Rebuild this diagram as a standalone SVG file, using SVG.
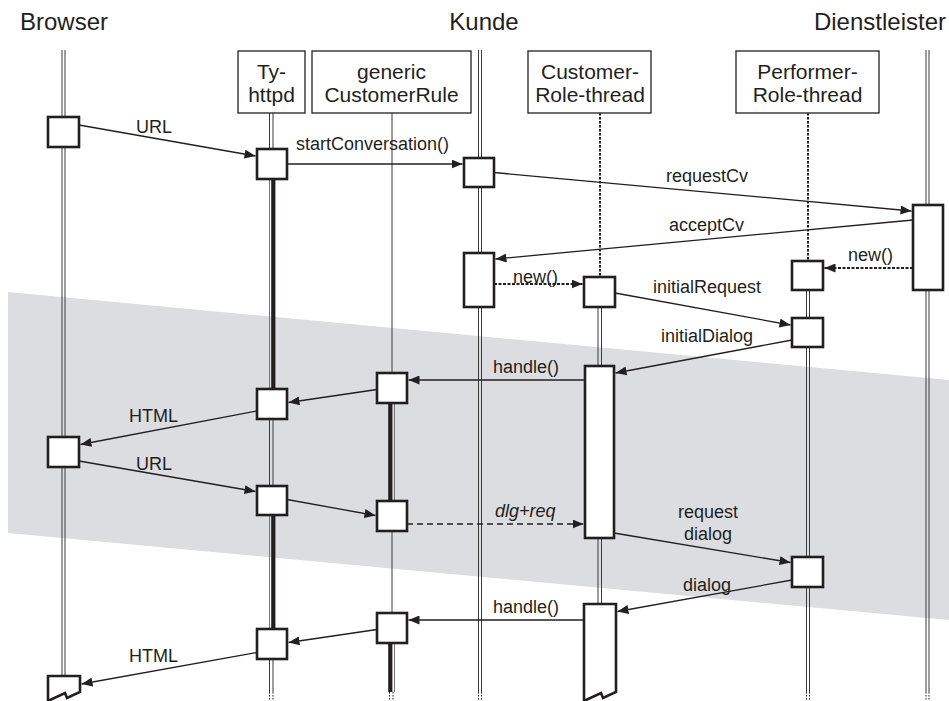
<svg xmlns="http://www.w3.org/2000/svg" width="949" height="701" viewBox="0 0 949 701">
  <defs>
    <marker id="arrow" markerUnits="userSpaceOnUse" markerWidth="12" markerHeight="9" refX="11" refY="4.5" orient="auto">
      <path d="M0,0 L11,4.5 L0,9 z" fill="#231f20"/>
    </marker>
    <style>
      text { font-family: "Liberation Sans", Arial, sans-serif; fill: #231f20; }
      .title { font-size: 24px; }
      .hdr { font-size: 21px; text-anchor: middle; }
      .lbl { font-size: 18px; }
      .mid { text-anchor: middle; }
      .hbox { fill: #fff; stroke: #231f20; stroke-width: 1.3; }
      .act { fill: #fff; stroke: #231f20; stroke-width: 2.6; stroke-linejoin: miter; }
      .life { stroke: #3a3a3a; stroke-width: 1; fill: none; }
      .thick { stroke: #231f20; stroke-width: 4.2; fill: none; }
      .thin { stroke: #777; stroke-width: 1; fill: none; }
      .dot { stroke: #231f20; stroke-width: 2; stroke-dasharray: 2.5 1.5; fill: none; }
      .end { stroke: #231f20; stroke-width: 1; stroke-dasharray: 1.5 1.5; fill: none; }
      .msg { stroke: #231f20; stroke-width: 1.3; fill: none; marker-end: url(#arrow); }
      .create { stroke: #231f20; stroke-width: 2; stroke-dasharray: 3 1.5; fill: none; marker-end: url(#arrow); }
      .dash { stroke: #231f20; stroke-width: 1.6; stroke-dasharray: 6 4; fill: none; marker-end: url(#arrow); }
    </style>
  </defs>

  <rect width="949" height="701" fill="#fff"/>

  <!-- shaded region -->
  <polygon points="8,292 949,380 949,620 8,533" fill="#dcdde0"/>

  <!-- participant titles -->
  <text class="title" x="20" y="30">Browser</text>
  <text class="title" x="484" y="30" text-anchor="middle">Kunde</text>
  <text class="title" x="946" y="30" text-anchor="end">Dienstleister</text>

  <!-- lifelines -->
  <g id="lifelines">
    <!-- Browser -->
    <path class="life" d="M62,50 V117 M65,50 V117 M62,147 V437 M65,147 V437 M62,467 V676 M65,467 V676"/>
    <!-- Ty-httpd -->
    <path class="life" d="M269.5,113 V149 M273,113 V149 M269.5,419 V486 M273,419 V486 M269.5,659 V692 M273,659 V692"/>
    <path class="thin" d="M269.5,179 V389 M269.5,515 V629"/>
    <path class="thick" d="M273.3,179 V389 M273.3,515 V629"/>
    <path class="end" d="M269.5,692 V701 M273,692 V701"/>
    <!-- genericCustomerRule -->
    <path class="life" d="M392,113 V373 M392,531 V613"/>
    <path class="thin" d="M394.5,403 V501 M394.5,643 V692"/>
    <path class="thick" d="M390.3,403 V501 M390.3,643 V692"/>
    <path class="end" d="M389.5,692 V701 M393,692 V701"/>
    <!-- Kunde -->
    <path class="life" d="M478.5,50 V158 M481.5,50 V158 M478.5,187 V253 M481.5,187 V253 M478.5,307 V692 M481.5,307 V692"/>
    <path class="end" d="M478.5,692 V701 M481.5,692 V701"/>
    <!-- Customer-Role-thread -->
    <path class="dot" d="M600,113 V277"/>
    <path class="life" d="M598,307 V366 M601.5,307 V366 M598,538 V604 M601.5,538 V604"/>
    <!-- Performer-Role-thread -->
    <path class="dot" d="M808,113 V261"/>
    <path class="life" d="M806.5,290 V318 M809.5,290 V318 M806.5,347 V557 M809.5,347 V557 M806.5,587 V692 M809.5,587 V692"/>
    <path class="end" d="M806.5,692 V701 M809.5,692 V701"/>
    <!-- Dienstleister -->
    <path class="life" d="M926,50 V205 M929,50 V205 M926,290 V692 M929,290 V692"/>
    <path class="end" d="M926,692 V701 M929,692 V701"/>
  </g>

  <!-- header boxes -->
  <g id="ty-httpd">
    <rect class="hbox" x="238" y="51" width="67" height="62"/>
    <text class="hdr" x="271.5" y="79">Ty-</text>
    <text class="hdr" x="271.5" y="102">httpd</text>
  </g>
  <g id="generic-customer-rule">
    <rect class="hbox" x="312" y="51" width="159" height="62"/>
    <text class="hdr" x="391.5" y="79">generic</text>
    <text class="hdr" x="391.5" y="102">CustomerRule</text>
  </g>
  <g id="customer-role-thread">
    <rect class="hbox" x="528" y="51" width="123" height="62"/>
    <text class="hdr" x="590" y="79">Customer-</text>
    <text class="hdr" x="590" y="102">Role-thread</text>
  </g>
  <g id="performer-role-thread">
    <rect class="hbox" x="736" y="51" width="143" height="62"/>
    <text class="hdr" x="807.5" y="79">Performer-</text>
    <text class="hdr" x="807.5" y="102">Role-thread</text>
  </g>

  <!-- activation boxes -->
  <g id="activations">
    <rect id="browser-a1" class="act" x="48" y="117" width="31" height="30"/>
    <rect id="browser-a2" class="act" x="48" y="437" width="31" height="30"/>
    <path id="browser-a3" class="act" d="M48,676 H80 V692 L67,698 L65,693 L48,701 Z"/>

    <rect id="ty-a1" class="act" x="257" y="149" width="30" height="30"/>
    <rect id="ty-a2" class="act" x="257" y="389" width="30" height="30"/>
    <rect id="ty-a3" class="act" x="257" y="486" width="30" height="29"/>
    <rect id="ty-a4" class="act" x="257" y="629" width="30" height="30"/>

    <rect id="gcr-a1" class="act" x="377" y="373" width="30" height="30"/>
    <rect id="gcr-a2" class="act" x="377" y="501" width="30" height="30"/>
    <rect id="gcr-a3" class="act" x="377" y="613" width="30" height="30"/>

    <rect id="kunde-a1" class="act" x="464" y="158" width="30" height="29"/>
    <rect id="kunde-a2" class="act" x="464" y="253" width="30" height="54"/>

    <rect id="crt-a1" class="act" x="584" y="277" width="31" height="30"/>
    <rect id="crt-a2" class="act" x="585" y="366" width="29" height="172"/>
    <path id="crt-a3" class="act" d="M584,604 H616 V692 L603,698 L601,693 L584,701 Z"/>

    <rect id="prt-a1" class="act" x="792" y="261" width="31" height="29"/>
    <rect id="prt-a2" class="act" x="792" y="318" width="31" height="29"/>
    <rect id="prt-a3" class="act" x="792" y="557" width="31" height="30"/>

    <rect id="dl-a1" class="act" x="913" y="205" width="30" height="85"/>
  </g>

  <!-- messages -->
  <g id="connectors">
    <path class="msg" d="M79,125 L255.5,156"/>
    <path class="msg" d="M287,164 L462.5,164"/>
    <path class="msg" d="M494,172.5 L911.5,211"/>
    <path class="msg" d="M913,220 L495.5,259"/>
    <path class="create" d="M913,268 L824.5,268"/>
    <path class="create" d="M494,284 L582.5,284"/>
    <path class="msg" d="M615,293 L790.5,325"/>
    <path class="msg" d="M792,340 L615.5,373"/>
    <path class="msg" d="M585,380 L408.5,380"/>
    <path class="msg" d="M377,389.5 L288.5,402.5"/>
    <path class="msg" d="M257,411 L80.5,444.5"/>
    <path class="msg" d="M79,461 L255.5,491.5"/>
    <path class="msg" d="M287,499.5 L375.5,515.5"/>
    <path class="dash" d="M407,524 L583.5,524"/>
    <path class="msg" d="M614,533 L790.5,562.5"/>
    <path class="msg" d="M792,580 L617.5,611.5"/>
    <path class="msg" d="M584,620 L408.5,620"/>
    <path class="msg" d="M377,629.5 L288.5,642.5"/>
    <path class="msg" d="M257,652.5 L81.5,684"/>
  </g>

  <!-- message labels -->
  <g id="labels">
    <text class="lbl" x="136" y="133">URL</text>
    <text class="lbl" x="296" y="150">startConversation()</text>
    <text class="lbl" x="666" y="182">requestCv</text>
    <text class="lbl" x="669" y="231">acceptCv</text>
    <text class="lbl" x="848" y="261">new()</text>
    <text class="lbl" x="513" y="283">new()</text>
    <text class="lbl" x="653" y="293">initialRequest</text>
    <text class="lbl" x="661" y="342">initialDialog</text>
    <text class="lbl" x="493" y="373">handle()</text>
    <text class="lbl" x="129" y="422">HTML</text>
    <text class="lbl" x="136" y="470">URL</text>
    <text class="lbl" x="495" y="517" font-style="italic">dlg+req</text>
    <text class="lbl mid" x="708" y="518">request</text>
    <text class="lbl mid" x="708" y="540">dialog</text>
    <text class="lbl" x="683" y="591">dialog</text>
    <text class="lbl" x="493" y="613">handle()</text>
    <text class="lbl" x="129" y="662">HTML</text>
  </g>
</svg>
